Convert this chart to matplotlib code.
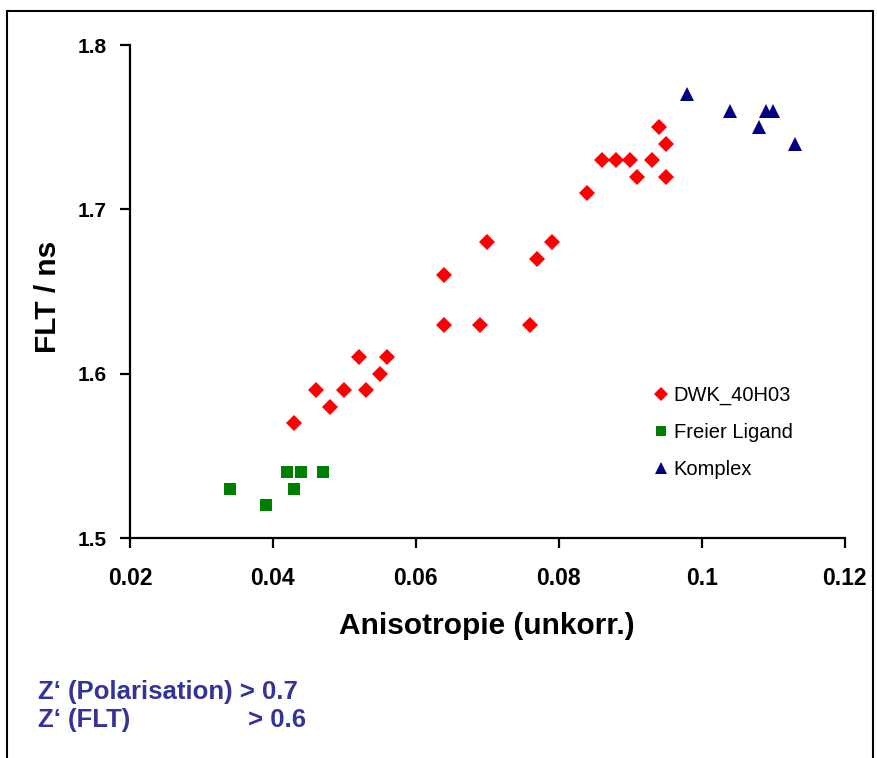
import matplotlib.pyplot as plt
from matplotlib.patches import Rectangle

plt.rcParams['font.family'] = ['Liberation Sans', 'DejaVu Sans']

# DWK_40H03
dwk_x = [0.043, 0.046, 0.048, 0.050, 0.052, 0.053, 0.055, 0.056, 0.064, 0.064,
         0.069, 0.070, 0.076, 0.077, 0.079, 0.084, 0.086, 0.088, 0.090, 0.091,
         0.093, 0.094, 0.095, 0.095]
dwk_y = [1.57, 1.59, 1.58, 1.59, 1.61, 1.59, 1.60, 1.61, 1.66, 1.63,
         1.63, 1.68, 1.63, 1.67, 1.68, 1.71, 1.73, 1.73, 1.73, 1.72,
         1.73, 1.75, 1.74, 1.72]

# Freier Ligand
lig_x = [0.034, 0.039, 0.042, 0.043, 0.044, 0.047]
lig_y = [1.53, 1.52, 1.54, 1.53, 1.54, 1.54]

# Komplex
kom_x = [0.098, 0.104, 0.108, 0.109, 0.110, 0.113]
kom_y = [1.77, 1.76, 1.75, 1.76, 1.76, 1.74]

x_ticks = [0.02, 0.04, 0.06, 0.08, 0.1, 0.12]
x_labels = ['0.02', '0.04', '0.06', '0.08', '0.1', '0.12']
y_ticks = [1.5, 1.6, 1.7, 1.8]


def main():
    fig = plt.figure(figsize=(8.78, 7.58), dpi=100)
    ax = fig.add_axes([0.148, 0.290, 0.814, 0.6505])

    ax.plot(dwk_x, dwk_y, ls='none', marker='D', ms=8.5, mew=0, color='#ff0000',
            label='DWK_40H03', clip_on=False)
    ax.plot(lig_x, lig_y, ls='none', marker='s', ms=8.5, mew=0, color='#008000',
            label='Freier Ligand', clip_on=False)
    ax.plot(kom_x, kom_y, ls='none', marker='^', ms=9.5, mew=0, color='#000080',
            label='Komplex', clip_on=False)

    ax.set_xlim(0.02, 0.12)
    ax.set_ylim(1.5, 1.8)
    ax.set_xticks(x_ticks)
    ax.set_xticklabels(x_labels)
    ax.set_yticks(y_ticks)

    for s in ['top', 'right']:
        ax.spines[s].set_visible(False)
    for s in ['left', 'bottom']:
        ax.spines[s].set_linewidth(1.6)
    ax.tick_params(direction='out', length=7, width=1.6)
    ax.tick_params(axis='x', labelsize=16.5, pad=14)
    ax.tick_params(axis='y', labelsize=15, pad=10)
    for lab in ax.get_xticklabels() + ax.get_yticklabels():
        lab.set_fontweight('bold')

    ax.set_xlabel('Anisotropie (unkorr.)', fontsize=21.5, fontweight='bold')
    ax.set_ylabel('FLT / ns', fontsize=21.5, fontweight='bold')
    ax.xaxis.set_label_coords(0.5, -0.15)
    ax.yaxis.set_label_coords(-0.095, 0.49)

    ax.legend(loc='upper left', bbox_to_anchor=(0.72, 0.325), frameon=False,
              fontsize=14.5, handletextpad=0.25, handlelength=0.8,
              labelspacing=0.88, markerscale=0.85, borderaxespad=0)

    blue = '#333399'
    fig.text(38 / 878, 1 - 692 / 758, 'Z‘ (Polarisation) > 0.7', color=blue,
             fontsize=18.5, fontweight='bold', va='center')
    fig.text(38 / 878, 1 - 720 / 758, 'Z‘ (FLT)', color=blue,
             fontsize=18.5, fontweight='bold', va='center')
    fig.text(248 / 878, 1 - 720 / 758, '> 0.6', color=blue,
             fontsize=18.5, fontweight='bold', va='center')

    fig.patches.append(Rectangle((7 / 878, -0.05), 866 / 878, 1.05 - 11 / 758,
                                 transform=fig.transFigure, fill=False,
                                 lw=1.5, ec='black'))

    fig.savefig('out.png', dpi=100)


if __name__ == "__main__":
    main()
